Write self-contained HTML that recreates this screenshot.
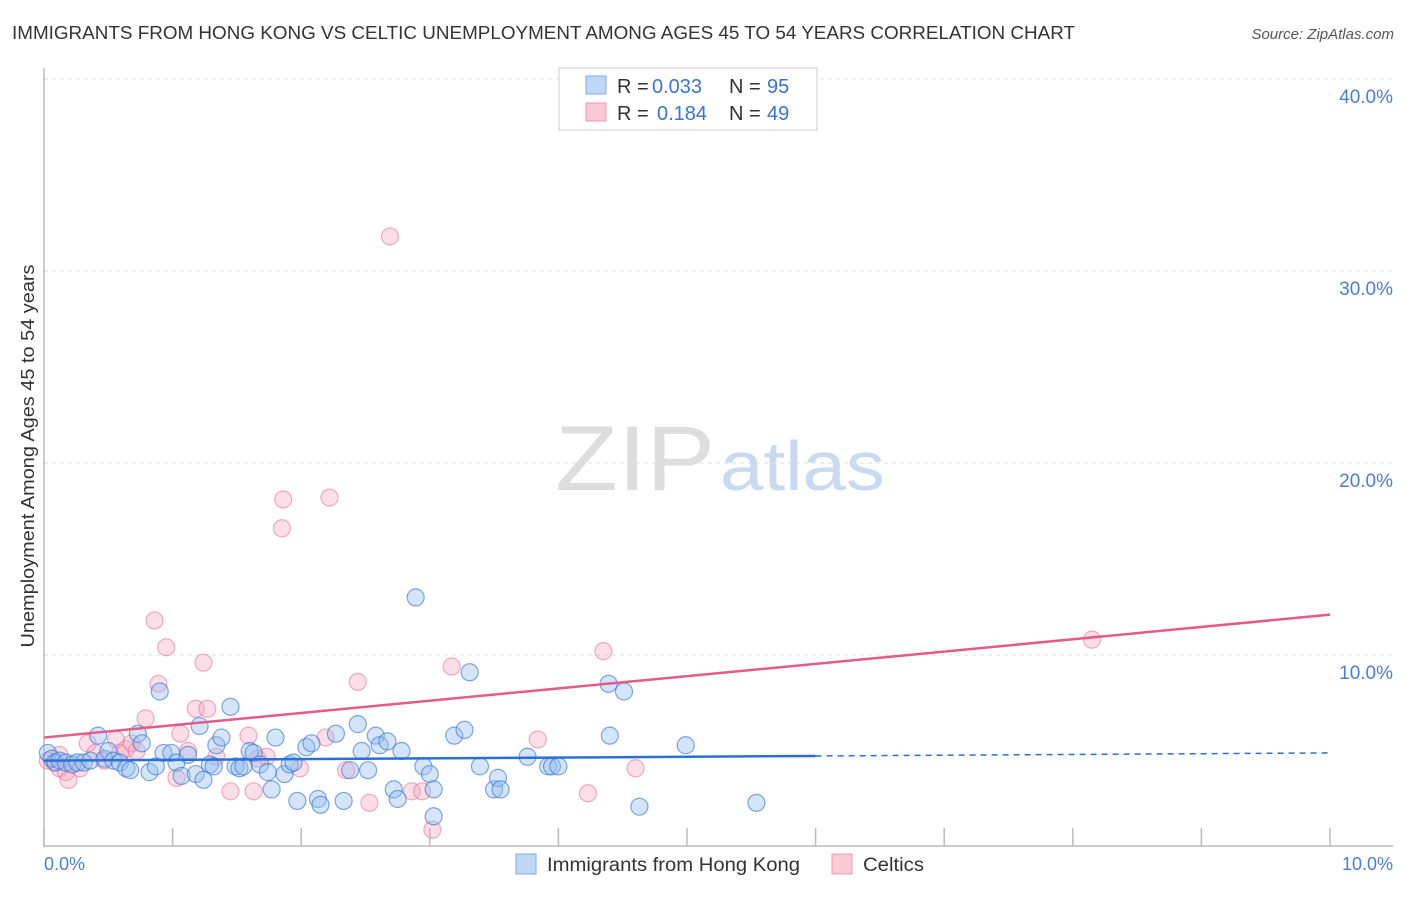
<!DOCTYPE html>
<html><head><meta charset="utf-8"><style>
body{margin:0;background:#fff;font-family:"Liberation Sans",sans-serif}
svg text{font-family:"Liberation Sans",sans-serif}
</style></head><body>
<svg id="c" width="1406" height="892" viewBox="0 0 1406 892" xmlns="http://www.w3.org/2000/svg">
<text x="12" y="39" font-size="18" fill="#333" textLength="1063" lengthAdjust="spacingAndGlyphs">IMMIGRANTS FROM HONG KONG VS CELTIC UNEMPLOYMENT AMONG AGES 45 TO 54 YEARS CORRELATION CHART</text>
<text x="1394" y="39" font-size="15" fill="#555" font-style="italic" text-anchor="end">Source: ZipAtlas.com</text>
<text x="555" y="490" font-size="92" fill="#ddd" font-family="Liberation Serif" textLength="160" lengthAdjust="spacingAndGlyphs">ZIP</text>
<text x="720" y="490" font-size="70" fill="#c9daf0" textLength="165" lengthAdjust="spacingAndGlyphs">atlas</text>
<g id="grid"></g>
<line x1="44" y1="68" x2="44" y2="847" stroke="#bbb" stroke-width="1.5"/>
<line x1="44" y1="846" x2="1393" y2="846" stroke="#bbb" stroke-width="1.5"/>
<g id="ticks"></g>
<text x="34" y="456" font-size="18" fill="#333" text-anchor="middle" transform="rotate(-90 34 456)" textLength="383" lengthAdjust="spacingAndGlyphs">Unemployment Among Ages 45 to 54 years</text>
<text x="44" y="870" font-size="18" fill="#4a7fd0">0.0%</text>
<text x="1393" y="870" font-size="18" fill="#4a7fd0" text-anchor="end">10.0%</text>
<g id="pts"></g>
<g id="lines"></g>
<g>
<rect x="559" y="68" width="258" height="62" fill="#fff" stroke="#ccc"/>
<rect x="586" y="76" width="20" height="18" fill="#c0d6f5" stroke="#7fa8e6"/>
<rect x="586" y="103" width="20" height="18" fill="#f9c9d8" stroke="#ee9ab5"/>
<text y="93" font-size="20" fill="#333"><tspan x="617">R =</tspan><tspan x="652" fill="#3a74d0">0.033</tspan><tspan x="729">N =</tspan><tspan x="767" fill="#3a74d0">95</tspan></text>
<text y="120" font-size="20" fill="#333"><tspan x="617">R =</tspan><tspan x="657" fill="#3a74d0">0.184</tspan><tspan x="729">N =</tspan><tspan x="767" fill="#3a74d0">49</tspan></text>
</g>
<g>
<rect x="516" y="854" width="20" height="20" fill="#c0d6f5" stroke="#7fa8e6"/>
<text x="547" y="871" font-size="19" fill="#333" textLength="253" lengthAdjust="spacingAndGlyphs">Immigrants from Hong Kong</text>
<rect x="832" y="854" width="20" height="20" fill="#f9c9d8" stroke="#ee9ab5"/>
<text x="863" y="871" font-size="19" fill="#333" textLength="61" lengthAdjust="spacingAndGlyphs">Celtics</text>
</g>
</svg>
<script>
const yTicks=[10,20,30,40];
const xTickCount=[0,1,2,3,4,5,6,7,8,9,10];
const blueX=[0.03,0.06,0.09,0.12,0.17,0.22,0.26,0.31,0.36,0.42,0.47,0.50,0.54,0.59,0.64,0.67,0.73,0.76,0.82,0.87,0.90,0.93,0.99,1.03,1.07,1.12,1.18,1.21,1.24,1.29,1.32,1.34,1.38,1.45,1.49,1.52,1.55,1.60,1.63,1.68,1.74,1.77,1.80,1.87,1.91,1.94,1.97,2.04,2.08,2.13,2.15,2.27,2.33,2.38,2.44,2.47,2.52,2.58,2.61,2.67,2.72,2.75,2.78,2.89,2.95,3.00,3.03,3.03,3.19,3.27,3.31,3.39,3.50,3.53,3.55,3.76,3.92,3.95,4.00,4.39,4.40,4.51,4.63,4.99,5.54];
const blueY=[4.9,4.6,4.4,4.5,4.4,4.3,4.4,4.4,4.5,5.8,4.6,5.0,4.5,4.4,4.1,4.0,5.9,5.4,3.9,4.2,8.1,4.9,4.9,4.4,3.7,4.8,3.8,6.3,3.5,4.3,4.2,5.3,5.7,7.3,4.2,4.1,4.2,5.0,4.9,4.3,3.9,3.0,5.7,3.8,4.3,4.4,2.4,5.2,5.4,2.5,2.2,5.9,2.4,4.0,6.4,5.0,4.0,5.8,5.3,5.5,3.0,2.5,5.0,13.0,4.2,3.8,3.0,1.6,5.8,6.1,9.1,4.2,3.0,3.6,3.0,4.7,4.2,4.2,4.2,8.5,5.8,8.1,2.1,5.3,2.3];
const pinkX=[0.03,0.08,0.12,0.17,0.19,0.28,0.34,0.40,0.47,0.56,0.59,0.64,0.68,0.72,0.79,0.86,0.89,0.95,1.03,1.06,1.12,1.18,1.24,1.27,1.34,1.45,1.59,1.63,1.66,1.73,1.85,1.86,1.99,2.19,2.22,2.35,2.44,2.53,2.69,2.86,2.94,3.02,3.17,3.84,4.23,4.35,4.60,8.15,0.12];
const pinkY=[4.5,4.4,4.1,3.9,3.5,4.1,5.4,4.9,4.5,5.6,4.9,5.1,5.4,5.0,6.7,11.8,8.5,10.4,3.6,5.9,5.0,7.2,9.6,7.2,4.7,2.9,5.8,2.9,4.6,4.7,16.6,18.1,4.1,5.7,18.2,4.0,8.6,2.3,31.8,2.9,2.9,0.9,9.4,5.6,2.8,10.2,4.1,10.8,4.8];
const pinkTrend=[5.7,12.1];
const blueTrend=[4.5,4.9];
const X=v=>44+v/10*1286, Y=v=>847-v*19.2;
const NS='http://www.w3.org/2000/svg';
function mk(t,a,p){const e=document.createElementNS(NS,t);for(const k in a)e.setAttribute(k,a[k]);p.appendChild(e);return e;}
const g=document.getElementById('grid');
yTicks.forEach(t=>{
 const l=mk('line',{x1:44,x2:1393,y1:Y(t),y2:Y(t),stroke:'#ddd','stroke-dasharray':'4,4'},g);
 
 
 const tx=mk('text',{x:1393,y:Y(t)+24,'font-size':19,fill:'#4a7fd0','text-anchor':'end'},g);
 tx.textContent=t.toFixed(1)+'%';
 
 
});
const tk=document.getElementById('ticks');
xTickCount.forEach(i=>{
 const l=mk('line',{x1:X(i),x2:X(i),y1:828,y2:846,stroke:'#bbb','stroke-width':1.5},tk);
 
 
});
const pg=document.getElementById('pts');
pinkX.forEach((x,i)=>{
 const c=mk('circle',{cx:X(x),cy:Y(pinkY[i]),r:8.5,fill:'rgba(244,160,188,0.35)',stroke:'rgba(232,120,155,0.6)','stroke-width':1.2},pg);
 
 
});
blueX.forEach((x,i)=>{
 const c=mk('circle',{cx:X(x),cy:Y(blueY[i]),r:8.5,fill:'rgba(150,190,240,0.4)',stroke:'rgba(60,120,210,0.65)','stroke-width':1.2},pg);
 
 
});
const lg=document.getElementById('lines');
const pl=mk('line',{x1:X(0),y1:Y(pinkTrend[0]),x2:X(10),y2:Y(pinkTrend[1]),stroke:'#e45a88','stroke-width':2.5},lg);


const bm=blueTrend[0]+(blueTrend[1]-blueTrend[0])*0.6;
const bl=mk('line',{x1:X(0),y1:Y(blueTrend[0]),x2:X(6),y2:Y(bm),stroke:'#2a6fd6','stroke-width':2.5},lg);


const bd=mk('line',{x1:X(6),y1:Y(bm),x2:X(10),y2:Y(blueTrend[1]),stroke:'#2a6fd6','stroke-width':1.5,'stroke-dasharray':'6,5'},lg);


</script>
</body></html>
